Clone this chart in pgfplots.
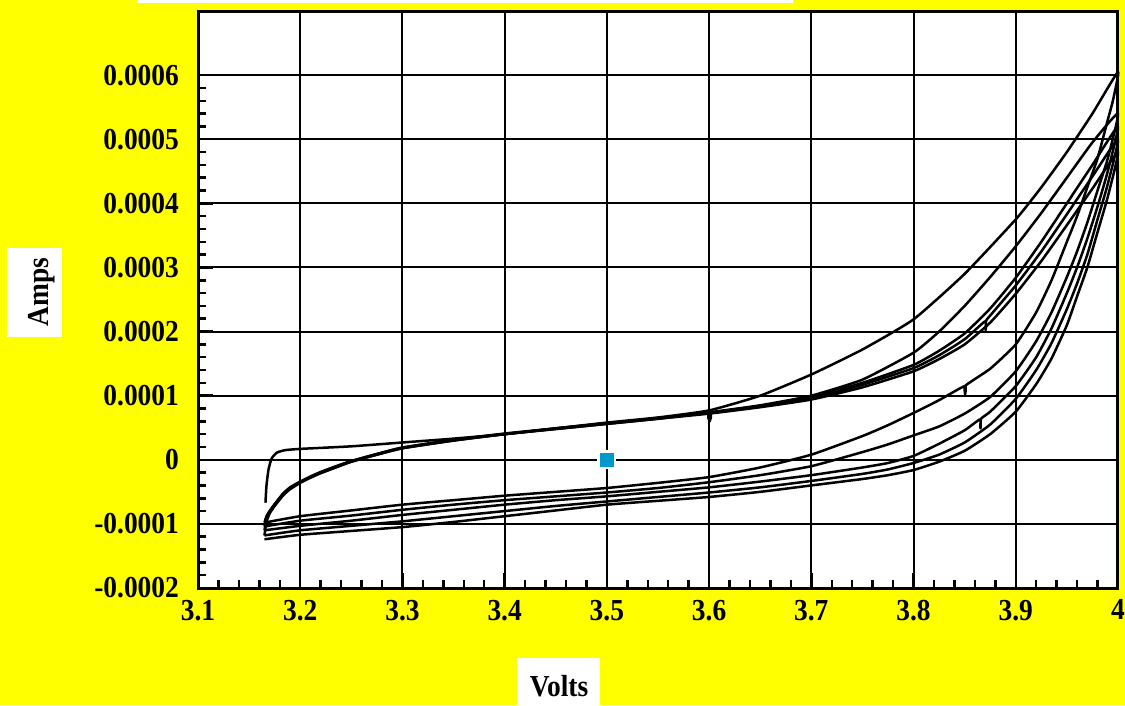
\documentclass[border=0pt]{standalone}
\usepackage{fontspec}
\setmainfont{Liberation Serif}
\newfontfamily\labfont[FakeStretch=0.9]{Liberation Serif}
\usepackage{pgfplots}
\pgfplotsset{compat=1.18}
\definecolor{bgyellow}{RGB}{255,255,0}
\definecolor{markblue}{RGB}{0,153,204}

% Cyclic voltammetry: five sweeps between 3.165 V and 4.0 V
\pgfplotstableread{
V I
3.166 -0.000067
3.167 -0.000040
3.169 -0.000015
3.172 0.000002
3.177 0.000011
3.185 0.000015
3.200 0.000017
3.250 0.000021
3.300 0.000027
3.350 0.000033
3.400 0.000040
3.450 0.000049
3.500 0.000058
3.550 0.000066
3.600 0.000077
3.650 0.000100
3.700 0.000133
3.750 0.000172
3.800 0.000219
3.850 0.000290
3.900 0.000375
3.925 0.000425
3.950 0.000480
3.975 0.000540
4.000 0.000605
3.995 0.000560
3.990 0.000530
3.980 0.000470
3.970 0.000425
3.960 0.000380
3.950 0.000340
3.935 0.000280
3.920 0.000230
3.900 0.000180
3.875 0.000142
3.851 0.000116
3.8505 0.000102
3.850 0.000115
3.825 0.000093
3.800 0.000073
3.775 0.000054
3.750 0.000037
3.700 0.000008
3.650 -0.000012
3.600 -0.000027
3.550 -0.000036
3.500 -0.000044
3.450 -0.000050
3.400 -0.000056
3.350 -0.000063
3.300 -0.000070
3.250 -0.000079
3.200 -0.000088
3.165 -0.000098
}\cycleone

\pgfplotstableread{
V I
3.165 -0.000098
3.167 -0.000088
3.170 -0.000080
3.175 -0.000069
3.183 -0.000053
3.190 -0.000043
3.200 -0.000034
3.210 -0.000026
3.220 -0.000019
3.235 -0.000010
3.250 -0.000002
3.275 0.000009
3.300 0.000019
3.350 0.000031
3.400 0.000040
3.450 0.000049
3.500 0.000057
3.550 0.000065
3.600 0.000074
3.650 0.000085
3.700 0.000100
3.750 0.000125
3.800 0.000167
3.825 0.000200
3.850 0.000240
3.875 0.000285
3.900 0.000333
3.925 0.000385
3.950 0.000440
3.975 0.000495
4.000 0.000540
3.990 0.000470
3.980 0.000420
3.970 0.000370
3.960 0.000325
3.950 0.000285
3.935 0.000230
3.920 0.000185
3.900 0.000138
3.875 0.000098
3.850 0.000072
3.825 0.000052
3.800 0.000038
3.775 0.000024
3.750 0.000012
3.700 -0.000010
3.650 -0.000024
3.600 -0.000035
3.550 -0.000044
3.500 -0.000051
3.450 -0.000057
3.400 -0.000063
3.350 -0.000070
3.300 -0.000078
3.250 -0.000087
3.200 -0.000095
3.165 -0.000104
}\cycletwo

\pgfplotstableread{
V I
3.165 -0.000104
3.167 -0.000091
3.170 -0.000081
3.175 -0.000070
3.183 -0.000054
3.190 -0.000044
3.200 -0.000035
3.210 -0.000027
3.220 -0.000020
3.235 -0.000011
3.250 -0.000003
3.275 0.000008
3.300 0.000018
3.350 0.000030
3.400 0.000040
3.450 0.000048
3.500 0.000056
3.550 0.000064
3.600 0.000073
3.6005 0.000060
3.601 0.000073
3.650 0.000084
3.700 0.000098
3.750 0.000120
3.800 0.000148
3.825 0.000170
3.850 0.000197
3.875 0.000236
3.900 0.000284
3.925 0.000340
3.950 0.000400
3.975 0.000460
4.000 0.000520
3.990 0.000450
3.980 0.000395
3.970 0.000345
3.960 0.000300
3.950 0.000260
3.935 0.000205
3.920 0.000160
3.900 0.000115
3.875 0.000075
3.866 0.000064
3.8655 0.000049
3.865 0.000063
3.850 0.000046
3.825 0.000025
3.800 0.000006
3.775 -0.000005
3.750 -0.000012
3.700 -0.000024
3.650 -0.000034
3.600 -0.000043
3.550 -0.000050
3.500 -0.000057
3.450 -0.000063
3.400 -0.000070
3.350 -0.000078
3.300 -0.000086
3.250 -0.000095
3.200 -0.000103
3.165 -0.000110
}\cyclethree

\pgfplotstableread{
V I
3.165 -0.000110
3.167 -0.000094
3.170 -0.000082
3.175 -0.000071
3.183 -0.000055
3.190 -0.000045
3.200 -0.000035
3.210 -0.000027
3.220 -0.000020
3.235 -0.000011
3.250 -0.000002
3.275 0.000009
3.300 0.000019
3.350 0.000031
3.400 0.000041
3.450 0.000049
3.500 0.000057
3.550 0.000065
3.600 0.000073
3.650 0.000083
3.700 0.000096
3.750 0.000117
3.800 0.000143
3.825 0.000163
3.850 0.000188
3.870 0.000216
3.8705 0.000202
3.871 0.000217
3.875 0.000225
3.900 0.000272
3.925 0.000325
3.950 0.000383
3.975 0.000442
4.000 0.000500
3.990 0.000430
3.980 0.000375
3.970 0.000320
3.960 0.000275
3.950 0.000235
3.935 0.000182
3.920 0.000140
3.900 0.000095
3.875 0.000055
3.850 0.000027
3.825 0.000008
3.800 -0.000005
3.775 -0.000015
3.750 -0.000022
3.700 -0.000033
3.650 -0.000043
3.600 -0.000051
3.550 -0.000058
3.500 -0.000065
3.450 -0.000072
3.400 -0.000080
3.350 -0.000088
3.300 -0.000096
3.250 -0.000103
3.200 -0.000110
3.165 -0.000118
}\cyclefour

\pgfplotstableread{
V I
3.165 -0.000118
3.167 -0.000097
3.170 -0.000084
3.175 -0.000072
3.183 -0.000056
3.190 -0.000046
3.200 -0.000036
3.210 -0.000028
3.220 -0.000021
3.235 -0.000012
3.250 -0.000003
3.275 0.000008
3.300 0.000018
3.350 0.000030
3.400 0.000040
3.450 0.000048
3.500 0.000056
3.550 0.000064
3.600 0.000072
3.650 0.000082
3.700 0.000094
3.750 0.000113
3.800 0.000138
3.825 0.000157
3.850 0.000180
3.875 0.000214
3.900 0.000259
3.925 0.000310
3.950 0.000366
3.975 0.000423
4.000 0.000480
3.990 0.000410
3.980 0.000355
3.970 0.000300
3.960 0.000255
3.950 0.000210
3.935 0.000158
3.920 0.000118
3.900 0.000075
3.875 0.000040
3.850 0.000014
3.825 -0.000003
3.800 -0.000016
3.775 -0.000024
3.750 -0.000030
3.700 -0.000040
3.650 -0.000050
3.600 -0.000058
3.550 -0.000064
3.500 -0.000070
3.450 -0.000079
3.400 -0.000088
3.350 -0.000097
3.300 -0.000105
3.250 -0.000111
3.200 -0.000117
3.165 -0.000124
}\cyclefive

\begin{document}
\begin{tikzpicture}[labelfont/.style={font=\labfont\fontsize{12.2}{14}\selectfont\bfseries}]
\useasboundingbox (0,0) rectangle (450pt,282pt);
\fill[bgyellow] (0,0) rectangle (450pt,282pt);
\fill[white] (55.2pt,280.8pt) rectangle (317.2pt,282pt);
% axis titles on white boxes
\fill[white] (2.8pt,147.2pt) rectangle (24.8pt,182.8pt);
\node[labelfont, rotate=90] at (16.6pt,165.2pt) {Amps};
\fill[white] (206.8pt,0pt) rectangle (240pt,18.8pt);
\node[labelfont] at (223.6pt,7.4pt) {Volts};

\begin{axis}[
  at={(79.2pt,46.8pt)}, anchor=south west,
  scale only axis, width=368pt, height=230.8pt,
  xmin=3.1, xmax=4, ymin=-0.0002, ymax=0.0007,
  axis background/.style={fill=white},
  xtick={3.1,3.2,3.3,3.4,3.5,3.6,3.7,3.8,3.9,4},
  xticklabels={3.1,3.2,3.3,3.4,3.5,3.6,3.7,3.8,3.9,4},
  ytick={-0.0002,-0.0001,0,0.0001,0.0002,0.0003,0.0004,0.0005,0.0006},
  yticklabels={-0.0002,-0.0001,0,0.0001,0.0002,0.0003,0.0004,0.0005,0.0006},
  minor x tick num=4, minor y tick num=4,
  tick align=inside, xtick pos=left, ytick pos=left,
  major tick length=6pt, minor tick length=3.2pt,
  every tick/.style={black, line width=1pt},
  grid=major, major grid style={black, line width=0.8pt},
  axis line style={black, line width=1.2pt},
  tick label style={labelfont},
  /pgf/number format/assume math mode=true,
  yticklabel style={xshift=-4.1pt},
  xticklabel style={yshift=-1.2pt},
  clip=false,
  cv/.style={black, line width=1pt, mark=none, line join=round, smooth, tension=0.3},
]
\addplot[cv] table[x=V, y=I] {\cycleone};
\addplot[cv] table[x=V, y=I] {\cycletwo};
\addplot[cv] table[x=V, y=I] {\cyclethree};
\addplot[cv] table[x=V, y=I] {\cyclefour};
\addplot[cv] table[x=V, y=I] {\cyclefive};
\addplot[only marks, mark=square*, mark size=3.3pt,
  mark options={fill=markblue, draw=white, line width=1pt}] coordinates {(3.5,0)};
\end{axis}
\end{tikzpicture}
\end{document}
